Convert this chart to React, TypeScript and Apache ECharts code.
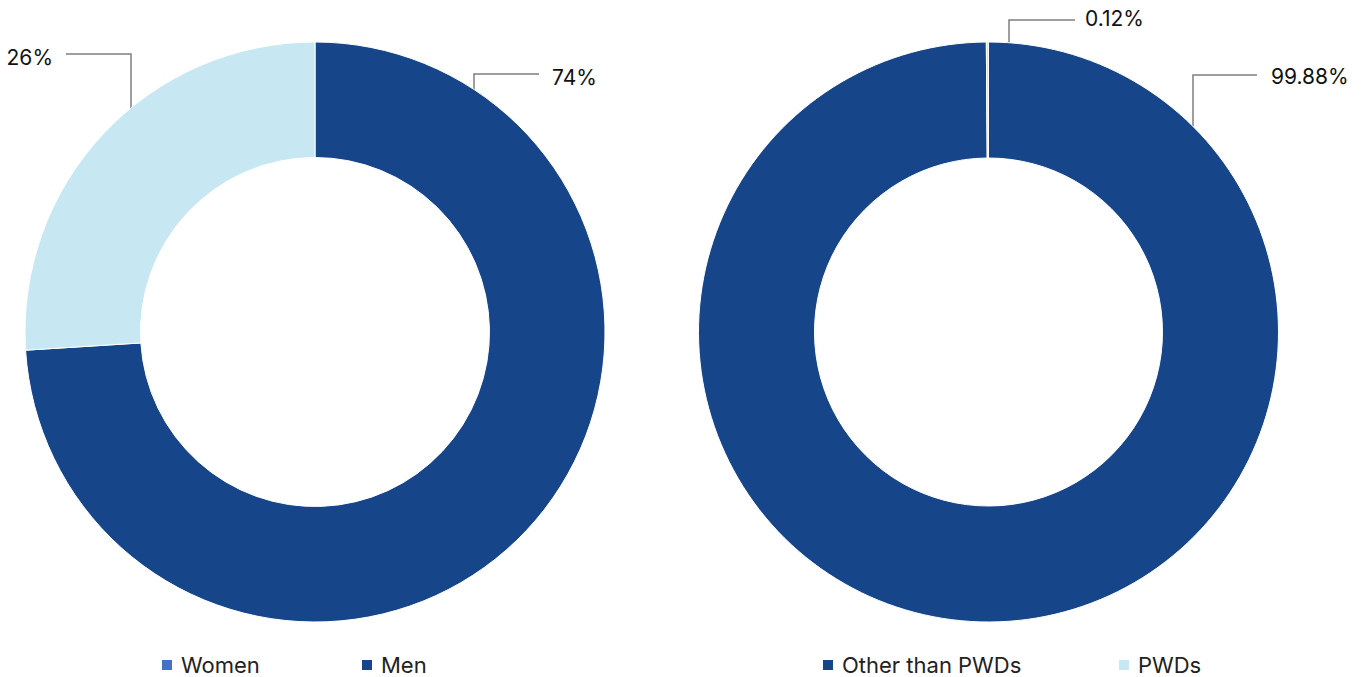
import React, { useEffect, useRef } from "react";
import * as echarts from "echarts";

const genderNames = ["Men", "Women"];
const genderValues = [74, 26];
const pwdNames = ["Other than PWDs", "PWDs"];
const pwdValues = [99.88, 0.12];

const NAVY = "#17458A";
const LIGHT = "#C7E8F2";
const WOMEN_LEGEND = "#4472C4";
const LINE = "#7F7F7F";
const FONT = "Inter, 'Noto Sans', sans-serif";

// label placements [seriesIndex][dataIndex]
const labelPlacement: any[][] = [
  [
    { x: 552, y: 77, align: "left", pts: [[474, 90], [474, 74], [539, 74]] },
    { x: 53, y: 57, align: "right", pts: [[131, 109], [131, 54], [66, 54]] },
  ],
  [
    { x: 1271, y: 76, align: "left", pts: [[1193, 126], [1193, 75], [1257, 75]] },
    { x: 1085, y: 18, align: "left", pts: [[1009, 43], [1009, 20], [1075, 20]] },
  ],
];

export default function App() {
  const ref = useRef<HTMLDivElement>(null);
  useEffect(() => {
    const chart = echarts.init(ref.current!, undefined, { renderer: "svg" });
    const pieCommon = {
      type: "pie",
      startAngle: 90,
      clockwise: true,
      avoidLabelOverlap: false,
      itemStyle: { borderColor: "#fff", borderWidth: 1 },
      label: {
        show: true,
        position: "outside",
        formatter: (p: any) => `${p.value}%`,
        color: "#111",
        fontSize: 21,
        fontFamily: FONT,
      },
      labelLine: { show: true, lineStyle: { color: LINE, width: 1.5 } },
      emphasis: { disabled: true },
      labelLayout: (params: any) => {
        const pl = labelPlacement[params.seriesIndex][params.dataIndex];
        return {
          x: pl.x,
          y: pl.y,
          align: pl.align,
          verticalAlign: "middle",
          labelLinePoints: pl.pts,
        };
      },
    };
    const legendCommon = {
      orient: "horizontal",
      padding: 0,
      itemWidth: 12,
      itemHeight: 12,
      icon: "rect",
      top: 654,
      selectedMode: false,
      textStyle: {
        fontSize: 22,
        lineHeight: 22,
        fontFamily: FONT,
        color: "#222",
        padding: [0, 0, 0, 3],
      },
    };
    chart.setOption({
      animation: false,
      legend: [
        { ...legendCommon, left: 160, data: [{ name: genderNames[1], itemStyle: { color: WOMEN_LEGEND } }] },
        { ...legendCommon, left: 360, data: [genderNames[0]] },
        { ...legendCommon, left: 821, data: [pwdNames[0]] },
        { ...legendCommon, left: 1117, data: [pwdNames[1]] },
      ],
      series: [
        {
          ...pieCommon,
          center: [315, 332],
          radius: [174.5, 290],
          data: genderNames.map((n, i) => ({
            name: n,
            value: genderValues[i],
            itemStyle: { color: i === 0 ? NAVY : LIGHT },
          })),
        },
        {
          ...pieCommon,
          center: [988.5, 332],
          radius: [174, 290],
          data: pwdNames.map((n, i) => ({
            name: n,
            value: pwdValues[i],
            itemStyle: { color: i === 0 ? NAVY : LIGHT },
          })),
        },
      ],
    });
    return () => chart.dispose();
  }, []);
  return (
    <div
      ref={ref}
      style={{ position: "fixed", left: 0, top: 0, width: 1369, height: 677, background: "#fff" }}
    />
  );
}
